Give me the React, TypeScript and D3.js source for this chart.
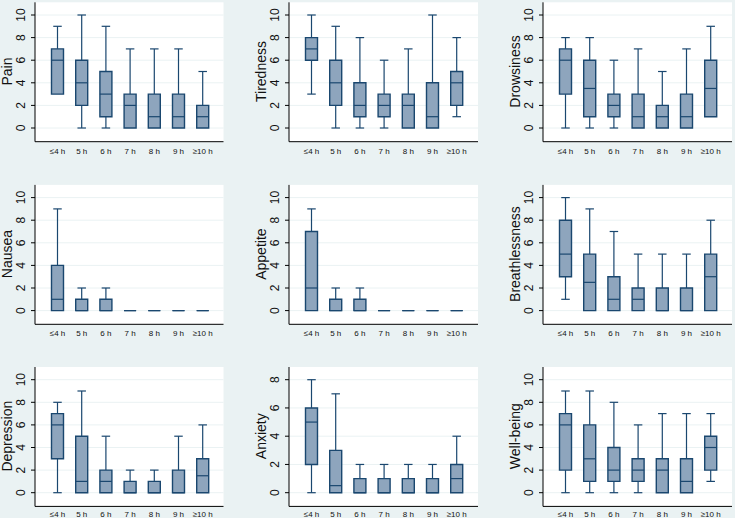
import React from "react";
import * as d3 from "d3";

// ---- Data -----------------------------------------------------------
const categories = ["≤4 h", "5 h", "6 h", "7 h", "8 h", "9 h", "≥10 h"];

// each entry: [lower adjacent, q1, median, q3, upper adjacent]
const pain = [[3, 3, 6, 7, 9], [0, 2, 4, 6, 10], [0, 1, 3, 5, 9], [0, 0, 2, 3, 7], [0, 0, 1, 3, 7], [0, 0, 1, 3, 7], [0, 0, 1, 2, 5]];
const tiredness = [[3, 6, 7, 8, 10], [0, 2, 4, 6, 9], [0, 1, 2, 4, 8], [0, 1, 2, 3, 6], [0, 0, 2, 3, 7], [0, 0, 1, 4, 10], [1, 2, 4, 5, 8]];
const drowsiness = [[0, 3, 6, 7, 8], [0, 1, 3.5, 6, 8], [0, 1, 2, 3, 6], [0, 0, 1, 3, 7], [0, 0, 1, 2, 5], [0, 0, 1, 3, 7], [1, 1, 3.5, 6, 9]];
const nausea = [[0, 0, 1, 4, 9], [0, 0, 0, 1, 2], [0, 0, 0, 1, 2], [0, 0, 0, 0, 0], [0, 0, 0, 0, 0], [0, 0, 0, 0, 0], [0, 0, 0, 0, 0]];
const appetite = [[0, 0, 2, 7, 9], [0, 0, 0, 1, 2], [0, 0, 0, 1, 2], [0, 0, 0, 0, 0], [0, 0, 0, 0, 0], [0, 0, 0, 0, 0], [0, 0, 0, 0, 0]];
const breathlessness = [[1, 3, 5, 8, 10], [0, 0, 2.5, 5, 9], [0, 0, 1, 3, 7], [0, 0, 1, 2, 5], [0, 0, 0, 2, 5], [0, 0, 0, 2, 5], [0, 0, 3, 5, 8]];
const depression = [[0, 3, 6, 7, 8], [0, 0, 1, 5, 9], [0, 0, 1, 2, 5], [0, 0, 0, 1, 2], [0, 0, 0, 1, 2], [0, 0, 0, 2, 5], [0, 0, 1.5, 3, 6]];
const anxiety = [[0, 2, 5, 6, 8], [0, 0, 0.5, 3, 7], [0, 0, 0, 1, 2], [0, 0, 0, 1, 2], [0, 0, 0, 1, 2], [0, 0, 0, 1, 2], [0, 0, 1, 2, 4]];
const wellbeing = [[0, 2, 6, 7, 9], [0, 1, 3, 6, 9], [0, 1, 2, 4, 8], [0, 1, 2, 3, 6], [0, 0, 2, 3, 7], [0, 0, 1, 3, 7], [1, 2, 4, 5, 7]];

const ticksTen = [0, 2, 4, 6, 8, 10];
const ticksEight = [0, 2, 4, 6, 8];

const panels = [
  { title: "Pain", stats: pain, ticks: ticksTen, max: 10 },
  { title: "Tiredness", stats: tiredness, ticks: ticksTen, max: 10 },
  { title: "Drowsiness", stats: drowsiness, ticks: ticksTen, max: 10 },
  { title: "Nausea", stats: nausea, ticks: ticksTen, max: 10 },
  { title: "Appetite", stats: appetite, ticks: ticksTen, max: 10 },
  { title: "Breathlessness", stats: breathlessness, ticks: ticksTen, max: 10 },
  { title: "Depression", stats: depression, ticks: ticksTen, max: 10 },
  { title: "Anxiety", stats: anxiety, ticks: ticksEight, max: 8 },
  { title: "Well-being", stats: wellbeing, ticks: ticksTen, max: 10 },
];

// ---- Layout ---------------------------------------------------------
const W = 735;
const H = 518;
const colLeft = [35, 289, 543];
const colRight = [223.5, 478, 732];
const rowTopTick = [15, 197.6, 379.7];
const tickSpan = 113;
const FONT = "'Liberation Sans', Arial, Helvetica, sans-serif";
const BG = "#eaf2f3";
const NAVY = "#1a476f";
const FILL = "#8ea5bd";

function Panel({ p, col, row }: { p: any; col: number; row: number }) {
  const left = colLeft[col];
  const right = colRight[col];
  const yTop = rowTopTick[row];
  const yZero = yTop + tickSpan;
  const plotTop = yTop - 12.7;
  const axisY = yZero + 13.7;
  const labelY = Math.min(axisY + 12, H - 1.5);

  const y = d3.scaleLinear().domain([0, p.max]).range([yZero, yTop]);
  const x = d3.scalePoint<string>().domain(categories).range([left + 22.5, left + 167.7]);
  const boxW = 12;
  const capW = 8.5;

  return (
    <g>
      <rect x={left} y={plotTop} width={right - left} height={axisY - plotTop} fill="#ffffff" />
      {p.ticks.map((t: number) => (
        <line key={"g" + t} x1={left} x2={right} y1={y(t)} y2={y(t)} stroke={BG} strokeWidth={1} />
      ))}
      {p.stats.map((s: number[], i: number) => {
        const cx = x(categories[i]) as number;
        const [lo, q1, med, q3, hi] = s;
        const x0 = cx - boxW / 2;
        const x1 = cx + boxW / 2;
        return (
          <g key={"b" + i}>
            {hi > q3 && (
              <>
                <line x1={cx} x2={cx} y1={y(q3)} y2={y(hi)} stroke={NAVY} strokeWidth={1.2} />
                <line x1={cx - capW / 2} x2={cx + capW / 2} y1={y(hi)} y2={y(hi)} stroke={NAVY} strokeWidth={1.2} />
              </>
            )}
            {lo < q1 && (
              <>
                <line x1={cx} x2={cx} y1={y(q1)} y2={y(lo)} stroke={NAVY} strokeWidth={1.2} />
                <line x1={cx - capW / 2} x2={cx + capW / 2} y1={y(lo)} y2={y(lo)} stroke={NAVY} strokeWidth={1.2} />
              </>
            )}
            <path
              d={`M${x0},${y(q1)}H${x1}V${y(q3)}H${x0}Z`}
              fill={FILL}
              stroke={NAVY}
              strokeWidth={1.4}
            />
            <line x1={x0} x2={x1} y1={y(med)} y2={y(med)} stroke={NAVY} strokeWidth={1.2} />
          </g>
        );
      })}
      {/* axes */}
      <line x1={left} x2={left} y1={plotTop} y2={axisY} stroke="#000" strokeWidth={1} />
      <line x1={left} x2={right} y1={axisY} y2={axisY} stroke="#000" strokeWidth={1} />
      {p.ticks.map((t: number) => (
        <g key={"t" + t}>
          <line x1={left - 4} x2={left} y1={y(t)} y2={y(t)} stroke="#000" strokeWidth={1} />
          <text
            transform={`translate(${left - 10.5},${y(t)}) rotate(-90)`}
            textAnchor="middle"
            fontSize={12}
            fontFamily={FONT}
            fill="#111"
          >
            {t}
          </text>
        </g>
      ))}
      {categories.map((c) => (
        <text
          key={"c" + c}
          x={x(c) as number}
          y={labelY}
          textAnchor="middle"
          fontSize={8}
          fontFamily={FONT}
          fill="#111"
        >
          {c}
        </text>
      ))}
      <text
        transform={`translate(${left - 23.5},${(yTop + yZero) / 2}) rotate(-90)`}
        textAnchor="middle"
        fontSize={14}
        fontFamily={FONT}
        fill="#111"
      >
        {p.title}
      </text>
    </g>
  );
}

export default function App() {
  return (
    <svg
      width={W}
      height={H}
      viewBox={`0 0 ${W} ${H}`}
      style={{ position: "absolute", left: 0, top: 0, display: "block" }}
    >
      <rect x={0} y={0} width={W} height={H} fill={BG} />
      {panels.map((p, i) => (
        <Panel key={p.title} p={p} col={i % 3} row={Math.floor(i / 3)} />
      ))}
    </svg>
  );
}
